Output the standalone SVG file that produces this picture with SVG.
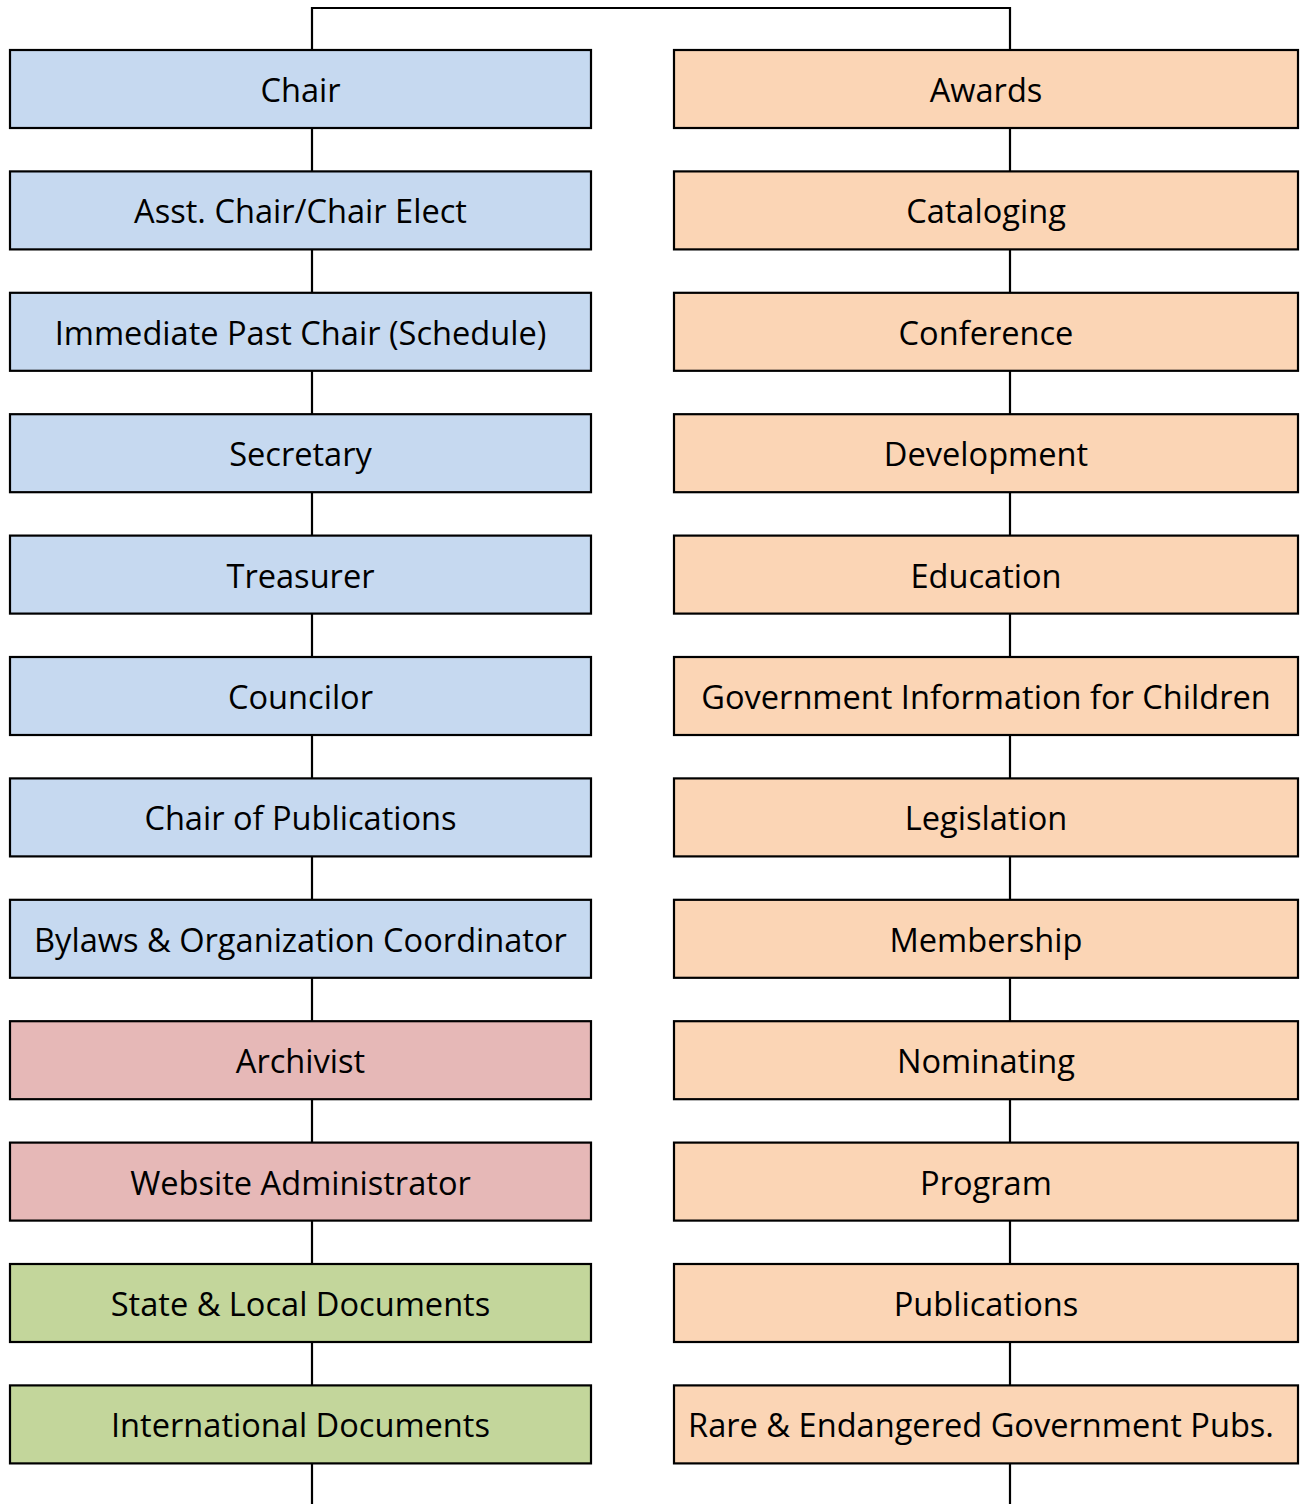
<svg xmlns="http://www.w3.org/2000/svg" width="1302" height="1504" viewBox="0 0 1302 1504">
<style>
.box{stroke:#000;stroke-width:2.2}
.blue{fill:#C6D9F0}
.peach{fill:#FBD5B5}
.pink{fill:#E6B8B7}
.green{fill:#C3D69B}
text{font-family:"Open Sans","Noto Sans",sans-serif;font-size:32.6px;fill:#000;text-anchor:middle}
.conn{stroke:#000;stroke-width:2.2;fill:none}
</style>
<rect width="1302" height="1504" fill="#fff"/>
<g id="connectors">
<path class="conn" d="M312,1504 V8 H1010 V1504"/>
</g>
<g id="n-chair"><rect class="box blue" x="10" y="50" width="581" height="78"/><text x="300.5" y="102">Chair</text></g>
<g id="n-asst"><rect class="box blue" x="10" y="171.4" width="581" height="78"/><text x="300.5" y="223.4">Asst. Chair/Chair Elect</text></g>
<g id="n-past"><rect class="box blue" x="10" y="292.8" width="581" height="78"/><text x="300.5" y="344.8">Immediate Past Chair (Schedule)</text></g>
<g id="n-secretary"><rect class="box blue" x="10" y="414.2" width="581" height="78"/><text x="300.5" y="466.2">Secretary</text></g>
<g id="n-treasurer"><rect class="box blue" x="10" y="535.6" width="581" height="78"/><text x="300.5" y="587.6">Treasurer</text></g>
<g id="n-councilor"><rect class="box blue" x="10" y="657" width="581" height="78"/><text x="300.5" y="709">Councilor</text></g>
<g id="n-chairpub"><rect class="box blue" x="10" y="778.4" width="581" height="78"/><text x="300.5" y="830.4">Chair of Publications</text></g>
<g id="n-bylaws"><rect class="box blue" x="10" y="899.8" width="581" height="78"/><text x="300.5" y="951.8">Bylaws &amp; Organization Coordinator</text></g>
<g id="n-archivist"><rect class="box pink" x="10" y="1021.2" width="581" height="78"/><text x="300.5" y="1073.2">Archivist</text></g>
<g id="n-web"><rect class="box pink" x="10" y="1142.6" width="581" height="78"/><text x="300.5" y="1194.6">Website Administrator</text></g>
<g id="n-state"><rect class="box green" x="10" y="1264" width="581" height="78"/><text x="300.5" y="1316">State &amp; Local Documents</text></g>
<g id="n-intl"><rect class="box green" x="10" y="1385.4" width="581" height="78"/><text x="300.5" y="1437.4">International Documents</text></g>
<g id="n-awards"><rect class="box peach" x="674" y="50" width="624" height="78"/><text x="986" y="102">Awards</text></g>
<g id="n-cataloging"><rect class="box peach" x="674" y="171.4" width="624" height="78"/><text x="986" y="223.4">Cataloging</text></g>
<g id="n-conference"><rect class="box peach" x="674" y="292.8" width="624" height="78"/><text x="986" y="344.8">Conference</text></g>
<g id="n-development"><rect class="box peach" x="674" y="414.2" width="624" height="78"/><text x="986" y="466.2">Development</text></g>
<g id="n-education"><rect class="box peach" x="674" y="535.6" width="624" height="78"/><text x="986" y="587.6">Education</text></g>
<g id="n-govinfo"><rect class="box peach" x="674" y="657" width="624" height="78"/><text x="986" y="709">Government Information for Children</text></g>
<g id="n-legislation"><rect class="box peach" x="674" y="778.4" width="624" height="78"/><text x="986" y="830.4">Legislation</text></g>
<g id="n-membership"><rect class="box peach" x="674" y="899.8" width="624" height="78"/><text x="986" y="951.8">Membership</text></g>
<g id="n-nominating"><rect class="box peach" x="674" y="1021.2" width="624" height="78"/><text x="986" y="1073.2">Nominating</text></g>
<g id="n-program"><rect class="box peach" x="674" y="1142.6" width="624" height="78"/><text x="986" y="1194.6">Program</text></g>
<g id="n-publications"><rect class="box peach" x="674" y="1264" width="624" height="78"/><text x="986" y="1316">Publications</text></g>
<g id="n-rare"><rect class="box peach" x="674" y="1385.4" width="624" height="78"/><text x="981" y="1437.4">Rare &amp; Endangered Government Pubs.</text></g>
</svg>
